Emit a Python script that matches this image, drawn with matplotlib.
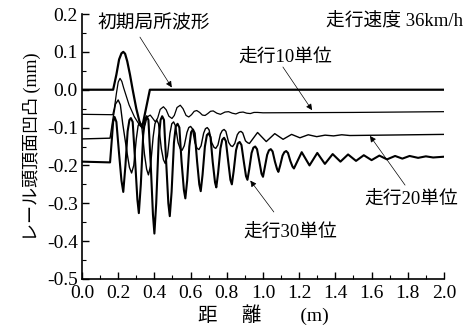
import matplotlib
matplotlib.use("Agg")
import matplotlib.pyplot as plt
from matplotlib.ticker import MultipleLocator, FormatStrFormatter

# ---- data ----
init_x = [0.0, 0.172, 0.19, 0.205, 0.218, 0.228, 0.238, 0.25, 0.265, 0.28, 0.30, 0.318, 0.332, 0.375, 2.0]
init_y = [0.0, 0.0, 0.04, 0.08, 0.096, 0.1, 0.095, 0.075, 0.04, 0.0, -0.05, -0.085, -0.1, 0.0, 0.0]

run10_x = [0.0, 0.17, 0.18, 0.19, 0.2, 0.21, 0.22, 0.23, 0.26, 0.29, 0.32, 0.34, 0.35, 0.36, 0.377,
           0.39, 0.405, 0.418, 0.432, 0.45, 0.465, 0.48, 0.497, 0.51, 0.525, 0.543, 0.558, 0.575, 0.59,
           0.605, 0.62, 0.634, 0.65, 0.665, 0.68, 0.695, 0.71, 0.725, 0.745, 0.765, 0.79, 0.81, 0.83,
           0.85, 0.87, 0.89, 0.91, 0.93, 0.95, 0.97, 1.0, 1.5, 2.0]
run10_y = [-0.065, -0.066, -0.045, -0.01, 0.02, 0.03, 0.022, 0.005, -0.04, -0.072, -0.095, -0.102, -0.09,
           -0.072, -0.067, -0.075, -0.085, -0.075, -0.052, -0.045, -0.053, -0.07, -0.076, -0.068, -0.047,
           -0.041, -0.05, -0.068, -0.072, -0.066, -0.057, -0.055, -0.06, -0.067, -0.068, -0.063, -0.057,
           -0.056, -0.062, -0.065, -0.059, -0.058, -0.062, -0.064, -0.06, -0.059, -0.062, -0.063, -0.06,
           -0.06, -0.061, -0.06, -0.058]

run20_x = [0.0, 0.155, 0.17, 0.185, 0.2, 0.212, 0.225, 0.25, 0.262, 0.274, 0.286, 0.3, 0.31, 0.32, 0.33,
           0.345, 0.357, 0.367, 0.379, 0.393, 0.403, 0.413, 0.423, 0.438, 0.45, 0.46, 0.472, 0.486, 0.496,
           0.506, 0.516, 0.531, 0.543, 0.553, 0.565, 0.58, 0.59, 0.60, 0.61, 0.624, 0.636, 0.646, 0.658,
           0.672, 0.682, 0.692, 0.702, 0.717, 0.729, 0.739, 0.751, 0.765, 0.775, 0.785, 0.795, 0.81, 0.822,
           0.832, 0.844, 0.858, 0.868, 0.878, 0.888, 0.903, 0.915, 0.925, 0.97, 1.018, 1.065, 1.111, 1.158,
           1.204, 1.25, 1.297, 1.343, 1.39, 1.435, 1.48, 2.0]
run20_y = [-0.13, -0.128, -0.08, -0.038, -0.027, -0.04, -0.09, -0.17, -0.205, -0.22, -0.2, -0.13, -0.095,
           -0.085, -0.095, -0.17, -0.21, -0.225, -0.2, -0.125, -0.09, -0.08, -0.09, -0.155, -0.185, -0.195,
           -0.175, -0.115, -0.09, -0.085, -0.095, -0.14, -0.156, -0.16, -0.148, -0.113, -0.1, -0.097, -0.103,
           -0.14, -0.155, -0.158, -0.148, -0.115, -0.103, -0.1, -0.106, -0.14, -0.152, -0.155, -0.146,
           -0.117, -0.108, -0.105, -0.11, -0.139, -0.148, -0.15, -0.142, -0.119, -0.112, -0.11, -0.114,
           -0.135, -0.14, -0.142, -0.113, -0.137, -0.116, -0.131, -0.118, -0.127, -0.119, -0.124, -0.12,
           -0.122, -0.119, -0.121, -0.118]

run30_x = [0.0, 0.155, 0.165, 0.172, 0.18, 0.19, 0.205, 0.218, 0.228, 0.24, 0.252, 0.262, 0.27, 0.28, 0.295,
           0.306, 0.314, 0.325, 0.338, 0.348, 0.357, 0.367, 0.38, 0.392, 0.40, 0.41, 0.424, 0.434, 0.443,
           0.453, 0.465, 0.477, 0.485, 0.495, 0.508, 0.518, 0.528, 0.538, 0.55, 0.563, 0.571, 0.581, 0.593,
           0.603, 0.613, 0.623, 0.636, 0.648, 0.656, 0.666, 0.679, 0.69, 0.70, 0.71, 0.722, 0.735, 0.742,
           0.752, 0.765, 0.775, 0.785, 0.795, 0.808, 0.82, 0.828, 0.838, 0.851, 0.861, 0.871, 0.881, 0.894,
           0.906, 0.914, 0.924, 0.937, 0.947, 0.957, 0.967, 0.98, 0.992, 1.0, 1.01, 1.023, 1.033, 1.043,
           1.053, 1.066, 1.078, 1.085, 1.095, 1.108, 1.118, 1.128, 1.138, 1.151, 1.163, 1.171, 1.214, 1.257,
           1.30, 1.342, 1.385, 1.428, 1.47, 1.514, 1.557, 1.60, 1.643, 1.685, 1.73, 1.77, 1.81, 1.857, 1.9,
           1.94, 2.0]
run30_y = [-0.19, -0.192, -0.13, -0.085, -0.072, -0.085, -0.17, -0.24, -0.27, -0.2, -0.11, -0.08, -0.075,
           -0.085, -0.2, -0.29, -0.326, -0.25, -0.12, -0.08, -0.07, -0.08, -0.2, -0.33, -0.38, -0.3, -0.13,
           -0.08, -0.07, -0.08, -0.19, -0.3, -0.334, -0.27, -0.14, -0.097, -0.09, -0.1, -0.19, -0.265, -0.287,
           -0.24, -0.15, -0.112, -0.105, -0.115, -0.19, -0.25, -0.268, -0.225, -0.15, -0.12, -0.115, -0.125,
           -0.19, -0.245, -0.258, -0.22, -0.155, -0.132, -0.127, -0.136, -0.19, -0.238, -0.25, -0.215, -0.16,
           -0.142, -0.138, -0.146, -0.19, -0.228, -0.238, -0.21, -0.167, -0.153, -0.15, -0.157, -0.19, -0.222,
           -0.23, -0.205, -0.172, -0.16, -0.157, -0.163, -0.19, -0.21, -0.217, -0.2, -0.174, -0.165, -0.162,
           -0.167, -0.188, -0.203, -0.208, -0.165, -0.2, -0.167, -0.196, -0.17, -0.19, -0.171, -0.188, -0.173,
           -0.186, -0.174, -0.184, -0.175, -0.182, -0.175, -0.18, -0.176, -0.179, -0.177]

x_ticks = [0.0, 0.2, 0.4, 0.6, 0.8, 1.0, 1.2, 1.4, 1.6, 1.8, 2.0]
y_ticks = [-0.5, -0.4, -0.3, -0.2, -0.1, 0.0, 0.1, 0.2]

label_init = "初期局所波形"
label_speed = "走行速度 36km/h"
label_10 = "走行10単位"
label_20 = "走行20単位"
label_30 = "走行30単位"
xlabel = "距　 離　　(m)"
ylabel = "レール頭頂面凹凸 (mm)"

FAM = ["Liberation Serif", "Noto Sans CJK JP", "DejaVu Sans"]
plt.rcParams["font.family"] = FAM

fig = plt.figure(figsize=(4.67, 3.31), dpi=100)
ax = fig.add_axes([0.1756, 0.1571, 0.7751, 0.8006])

ax.plot(init_x, init_y, color="black", lw=1.6)
ax.plot(run10_x, run10_y, color="black", lw=0.9)
ax.plot(run20_x, run20_y, color="black", lw=1.0)
ax.plot(run30_x, run30_y, color="black", lw=1.5)

ax.set_xlim(0, 2.0)
ax.set_ylim(-0.5, 0.2)
ax.set_xticks(x_ticks)
ax.set_yticks(y_ticks)
ax.xaxis.set_major_formatter(FormatStrFormatter("%.1f"))
ax.yaxis.set_major_formatter(FormatStrFormatter("%.1f"))
ax.xaxis.set_minor_locator(MultipleLocator(0.1))
ax.yaxis.set_minor_locator(MultipleLocator(0.05))
ax.tick_params(which="major", direction="in", length=5, width=1, labelsize=14, pad=4)
ax.tick_params(which="minor", direction="in", length=3, width=0.8)
ax.tick_params(axis="y", pad=3)
for s in ["top", "right"]:
    ax.spines[s].set_visible(False)
for s in ["left", "bottom"]:
    ax.spines[s].set_linewidth(1.2)

ax.set_xlabel(xlabel, fontsize=14, labelpad=2)
ax.set_ylabel(ylabel, fontsize=13, labelpad=4)

ap = dict(arrowstyle="-|>", color="black", lw=0.5, mutation_scale=9, shrinkA=0, shrinkB=0)
ax.text(0.398, 0.176, label_init, fontsize=13.5, ha="center", va="center")
ax.annotate("", xy=(0.496, 0.006), xytext=(0.32, 0.139), arrowprops=ap)

ax.text(2.105, 0.179, label_speed, fontsize=13.5, ha="right", va="center", clip_on=False)

ax.text(1.124, 0.084, label_10, fontsize=13.5, ha="center", va="center")
ax.annotate("", xy=(1.271, -0.054), xytext=(1.11, 0.06), arrowprops=ap)

ax.text(1.82, -0.291, label_20, fontsize=13.5, ha="center", va="center")
ax.annotate("", xy=(1.591, -0.122), xytext=(1.785, -0.252), arrowprops=ap)

ax.text(1.149, -0.379, label_30, fontsize=13.5, ha="center", va="center")
ax.annotate("", xy=(0.93, -0.24), xytext=(1.06, -0.323), arrowprops=ap)

fig.savefig("out.png", dpi=100)
